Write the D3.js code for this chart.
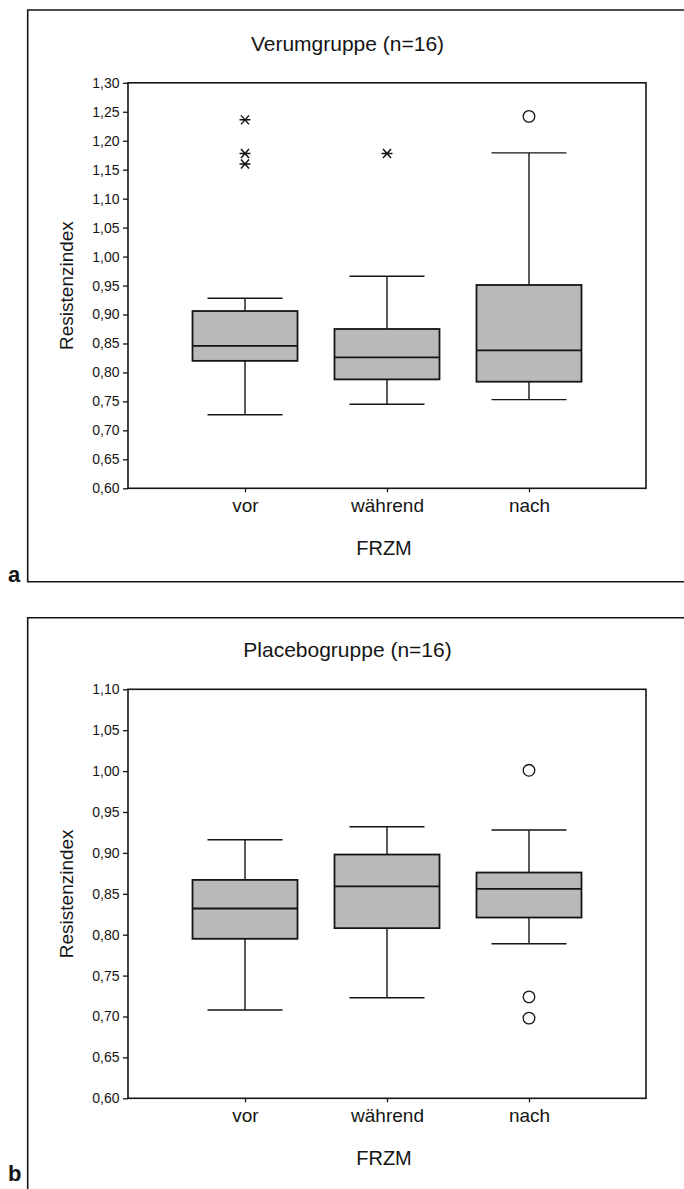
<!DOCTYPE html>
<html>
<head>
<meta charset="utf-8">
<script src="https://cdn.jsdelivr.net/npm/d3@7"></script>
<style>
  body { margin: 0; background: #fff; }
  svg { display: block; font-family: "Liberation Sans", Arial, sans-serif; }
</style>
</head>
<body>
<svg id="chart" width="684" height="1189"></svg>
<script>
// categories (FRZM time points)
const categories = ["vor", "während", "nach"];

// Verumgruppe - box statistics per category
const verumLow    = [0.727, 0.745, 0.753];
const verumQ1     = [0.820, 0.788, 0.784];
const verumMedian = [0.846, 0.826, 0.838];
const verumQ3     = [0.906, 0.875, 0.951];
const verumHigh   = [0.928, 0.966, 1.179];
// outliers: [category, value, kind]  kind "*" = extreme, "o" = outlier
const verumOutliers = [
  ["vor", 1.236, "*"], ["vor", 1.178, "*"], ["vor", 1.160, "*"],
  ["während", 1.178, "*"],
  ["nach", 1.242, "o"]
];

// Placebogruppe
const placeboLow    = [0.708, 0.723, 0.789];
const placeboQ1     = [0.795, 0.808, 0.821];
const placeboMedian = [0.832, 0.859, 0.856];
const placeboQ3     = [0.867, 0.898, 0.876];
const placeboHigh   = [0.916, 0.932, 0.928];
const placeboOutliers = [
  ["nach", 1.001, "o"], ["nach", 0.724, "o"], ["nach", 0.698, "o"]
];

const verumTicks   = d3.range(0.60, 1.3001, 0.05);
const placeboTicks = d3.range(0.60, 1.1001, 0.05);

const svg = d3.select("#chart");
const ink = "#151515";
const deLocale = d3.formatLocale({ decimal: ",", thousands: ".", grouping: [3], currency: ["", " €"] });
const fmt = deLocale.format(".2f");

function drawPanel(cfg) {
  const g = svg.append("g");

  // outer frame of the figure part (open to the right)
  g.append("path")
    .attr("d", `M700,${cfg.frameTop} H27.7 V${cfg.frameBottom} H700`)
    .attr("fill", "none").attr("stroke", ink).attr("stroke-width", 1.6);

  g.append("text")
    .attr("x", 8).attr("y", cfg.letterY)
    .attr("font-size", 22).attr("font-weight", "bold").attr("fill", ink)
    .text(cfg.letter);

  const x = d3.scalePoint().domain(categories).range([128, 646]).padding(0.824);
  const y = d3.scaleLinear().domain(cfg.domain).range([cfg.bottom, cfg.top]);

  // title
  g.append("text")
    .attr("x", 347.5).attr("y", cfg.top - 32)
    .attr("text-anchor", "middle").attr("font-size", 21).attr("fill", ink)
    .text(cfg.title);

  // y axis
  const yAxis = g.append("g")
    .attr("transform", "translate(128,0)")
    .call(d3.axisLeft(y).tickValues(cfg.ticks).tickFormat(fmt).tickSize(5).tickSizeOuter(0).tickPadding(3.5));
  yAxis.select(".domain").remove();
  yAxis.selectAll("line").attr("stroke", ink).attr("stroke-width", 1.3);
  yAxis.selectAll("text").attr("font-size", 14).attr("fill", ink).attr("font-family", "Liberation Sans, Arial, sans-serif");

  // x axis
  const xAxis = g.append("g")
    .attr("transform", `translate(0,${cfg.bottom})`)
    .call(d3.axisBottom(x).tickSize(4).tickSizeOuter(0).tickPadding(6));
  xAxis.select(".domain").remove();
  xAxis.selectAll("line").attr("stroke", ink).attr("stroke-width", 1.3);
  xAxis.selectAll("text").attr("font-size", 19).attr("fill", ink).attr("font-family", "Liberation Sans, Arial, sans-serif");

  // plot frame
  g.append("rect")
    .attr("x", 128).attr("y", cfg.top)
    .attr("width", 646 - 128).attr("height", cfg.bottom - cfg.top)
    .attr("fill", "none").attr("stroke", ink).attr("stroke-width", 1.6);

  // axis titles
  g.append("text")
    .attr("transform", `translate(73,${(cfg.top + cfg.bottom) / 2}) rotate(-90)`)
    .attr("text-anchor", "middle").attr("font-size", 19).attr("fill", ink)
    .text("Resistenzindex");
  g.append("text")
    .attr("x", 384).attr("y", cfg.bottom + 67)
    .attr("text-anchor", "middle").attr("font-size", 20).attr("fill", ink)
    .text("FRZM");

  const rows = categories.map((c, i) => ({
    cat: c, low: cfg.low[i], q1: cfg.q1[i], med: cfg.median[i], q3: cfg.q3[i], high: cfg.high[i]
  }));
  const boxW = 105, capW = 75;

  const box = g.append("g").selectAll("g").data(rows).join("g");
  // whiskers
  box.append("line")
    .attr("x1", d => x(d.cat)).attr("x2", d => x(d.cat))
    .attr("y1", d => y(d.high)).attr("y2", d => y(d.q3))
    .attr("stroke", ink).attr("stroke-width", 1.4);
  box.append("line")
    .attr("x1", d => x(d.cat)).attr("x2", d => x(d.cat))
    .attr("y1", d => y(d.q1)).attr("y2", d => y(d.low))
    .attr("stroke", ink).attr("stroke-width", 1.4);
  box.append("line")
    .attr("x1", d => x(d.cat) - capW / 2).attr("x2", d => x(d.cat) + capW / 2)
    .attr("y1", d => y(d.high)).attr("y2", d => y(d.high))
    .attr("stroke", ink).attr("stroke-width", 1.4);
  box.append("line")
    .attr("x1", d => x(d.cat) - capW / 2).attr("x2", d => x(d.cat) + capW / 2)
    .attr("y1", d => y(d.low)).attr("y2", d => y(d.low))
    .attr("stroke", ink).attr("stroke-width", 1.4);
  // boxes
  box.append("rect")
    .attr("x", d => x(d.cat) - boxW / 2).attr("width", boxW)
    .attr("y", d => y(d.q3)).attr("height", d => y(d.q1) - y(d.q3))
    .attr("fill", "#b9b9b9").attr("stroke", ink).attr("stroke-width", 1.8);
  box.append("line")
    .attr("x1", d => x(d.cat) - boxW / 2).attr("x2", d => x(d.cat) + boxW / 2)
    .attr("y1", d => y(d.med)).attr("y2", d => y(d.med))
    .attr("stroke", ink).attr("stroke-width", 1.8);

  // outliers
  const pts = g.append("g").selectAll("g").data(cfg.outliers).join("g")
    .attr("transform", d => `translate(${x(d[0])},${y(d[1])})`);
  pts.filter(d => d[2] === "o").append("circle")
    .attr("r", 5.8).attr("fill", "none").attr("stroke", ink).attr("stroke-width", 1.3);
  pts.filter(d => d[2] === "*").append("path")
    .attr("d", "M-5.5,0H5.5M-4,-4.5L4,4.5M-4,4.5L4,-4.5")
    .attr("fill", "none").attr("stroke", ink).attr("stroke-width", 1.5);
}

drawPanel({
  title: "Verumgruppe (n=16)", letter: "a", letterY: 582,
  frameTop: 10, frameBottom: 581.7,
  top: 82.8, bottom: 488.3, domain: [0.60, 1.30], ticks: verumTicks,
  low: verumLow, q1: verumQ1, median: verumMedian, q3: verumQ3, high: verumHigh,
  outliers: verumOutliers
});

drawPanel({
  title: "Placebogruppe (n=16)", letter: "b", letterY: 1181,
  frameTop: 617.7, frameBottom: 1300,
  top: 689.3, bottom: 1098.3, domain: [0.60, 1.10], ticks: placeboTicks,
  low: placeboLow, q1: placeboQ1, median: placeboMedian, q3: placeboQ3, high: placeboHigh,
  outliers: placeboOutliers
});
</script>
</body>
</html>
